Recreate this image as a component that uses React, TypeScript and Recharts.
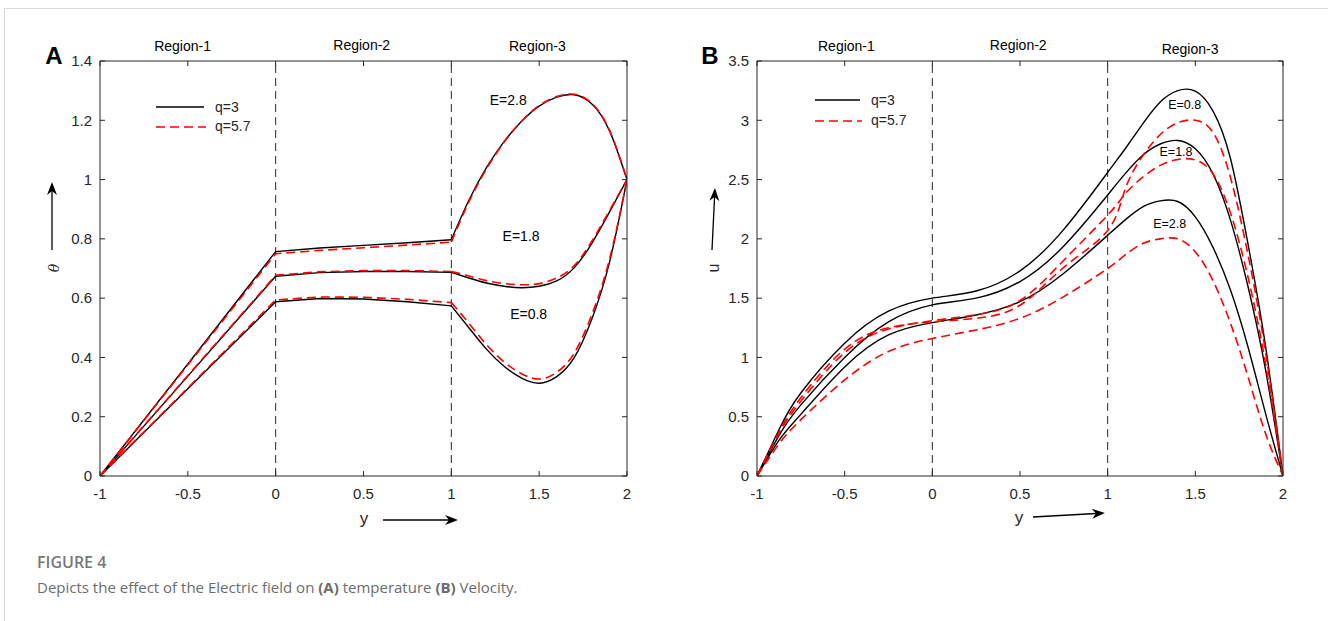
import { LineChart, Line, XAxis, YAxis, ReferenceLine, ReferenceDot } from "recharts"

// abscissa (y) sample positions
const posA = [-1, -0.5, 0, 0.25, 0.5, 0.75, 1, 1.1, 1.2, 1.3, 1.4, 1.5, 1.6, 1.7, 1.8, 1.9, 2]
const posB = [-1, -0.875, -0.75, -0.5, -0.25, 0, 0.25, 0.5, 0.75, 1, 1.1, 1.2, 1.3, 1.4, 1.5, 1.6, 1.7, 1.8, 1.9, 2]

const xTicks = [-1, -0.5, 0, 0.5, 1, 1.5, 2]
const thetaTicks = [0, 0.2, 0.4, 0.6, 0.8, 1, 1.2, 1.4]
const uTicks = [0, 0.5, 1, 1.5, 2, 2.5, 3, 3.5]

// (A) temperature theta
const thetaE28q3 = [0, 0.378, 0.757, 0.769, 0.778, 0.787, 0.797, 0.93, 1.04, 1.128, 1.197, 1.248, 1.278, 1.286, 1.255, 1.165, 1.0]
const thetaE28q57 = [0, 0.375, 0.75, 0.761, 0.77, 0.779, 0.789, 0.925, 1.036, 1.126, 1.197, 1.25, 1.28, 1.288, 1.257, 1.167, 1.0]
const thetaE18q3 = [0, 0.337, 0.674, 0.686, 0.69, 0.69, 0.687, 0.668, 0.651, 0.64, 0.635, 0.64, 0.658, 0.703, 0.785, 0.89, 1.0]
const thetaE18q57 = [0, 0.339, 0.677, 0.689, 0.693, 0.693, 0.69, 0.675, 0.659, 0.649, 0.645, 0.649, 0.668, 0.71, 0.792, 0.895, 1.0]
const thetaE08q3 = [0, 0.294, 0.588, 0.599, 0.597, 0.588, 0.574, 0.5, 0.428, 0.37, 0.33, 0.313, 0.335, 0.4, 0.53, 0.72, 1.0]
const thetaE08q57 = [0, 0.297, 0.594, 0.604, 0.603, 0.596, 0.585, 0.515, 0.443, 0.385, 0.345, 0.327, 0.35, 0.415, 0.545, 0.73, 1.0]

// (B) velocity u
const uE08q3 = [0, 0.39, 0.7, 1.12, 1.39, 1.5, 1.56, 1.73, 2.08, 2.56, 2.76, 2.97, 3.155, 3.25, 3.245, 3.08, 2.68, 1.96, 1.1, 0]
const uE18q3 = [0, 0.34, 0.6, 1.0, 1.3, 1.443, 1.5, 1.64, 1.94, 2.37, 2.55, 2.705, 2.8, 2.83, 2.76, 2.55, 2.16, 1.6, 0.9, 0]
const uE28q3 = [0, 0.3, 0.52, 0.92, 1.19, 1.294, 1.358, 1.47, 1.71, 2.03, 2.16, 2.27, 2.32, 2.315, 2.185, 1.93, 1.57, 1.09, 0.53, 0]
const uE08q57 = [0, 0.37, 0.66, 1.07, 1.25, 1.3, 1.33, 1.44, 1.76, 2.07, 2.42, 2.7, 2.88, 2.98, 3.0, 2.9, 2.52, 1.87, 1.05, 0]
const uE18q57 = [0, 0.36, 0.63, 1.04, 1.24, 1.31, 1.36, 1.48, 1.82, 2.2, 2.38, 2.52, 2.62, 2.67, 2.665, 2.55, 2.22, 1.68, 0.95, 0]
const uE28q57 = [0, 0.27, 0.475, 0.81, 1.05, 1.16, 1.232, 1.33, 1.513, 1.75, 1.865, 1.96, 2.0, 2.0, 1.89, 1.65, 1.29, 0.84, 0.36, 0]

const seriesA = [
  { key: "e28q3", values: thetaE28q3, q: 3 },
  { key: "e18q3", values: thetaE18q3, q: 3 },
  { key: "e08q3", values: thetaE08q3, q: 3 },
  { key: "e28q57", values: thetaE28q57, q: 5.7 },
  { key: "e18q57", values: thetaE18q57, q: 5.7 },
  { key: "e08q57", values: thetaE08q57, q: 5.7 },
]

const seriesB = [
  { key: "e08q3", values: uE08q3, q: 3 },
  { key: "e18q3", values: uE18q3, q: 3 },
  { key: "e28q3", values: uE28q3, q: 3 },
  { key: "e08q57", values: uE08q57, q: 5.7 },
  { key: "e18q57", values: uE18q57, q: 5.7 },
  { key: "e28q57", values: uE28q57, q: 5.7 },
]

const regionLabels = ["Region-1", "Region-2", "Region-3"]

// temperature has kinks at the interfaces, so regions 1-2 are straight segments
const rowsA = posA.map((p, i) => {
  const row: Record<string, number | null> = { p }
  seriesA.forEach((s) => {
    row[s.key] = p <= 1 ? s.values[i] : null
    row[s.key + "_r3"] = p >= 1 ? s.values[i] : null
  })
  return row
})

const rowsB = posB.map((p, i) => {
  const row: Record<string, number> = { p }
  seriesB.forEach((s) => {
    row[s.key] = s.values[i]
  })
  return row
})

const INK = "#262626"
const FONT = "Liberation Sans"
const tickStyle = { fill: INK, fontSize: 15, fontFamily: FONT }

function lineStyle(q: number) {
  return q === 3
    ? { stroke: "#000000", strokeWidth: 1.4 }
    : { stroke: "#ff0000", strokeWidth: 1.6, strokeDasharray: "9 5" }
}

// box frame with inward ticks on all four sides
function axes(yTicks: number[], yMax: number) {
  return [
    <XAxis key="xb" xAxisId="b" type="number" dataKey="p" domain={[-1, 2]} ticks={xTicks} fontSize={15}
      height={30} tickSize={-5} tickMargin={17} stroke={INK} tick={tickStyle} interval={0} allowDataOverflow />,
    <XAxis key="xt" xAxisId="t" orientation="top" type="number" dataKey="p" domain={[-1, 2]} ticks={xTicks}
      height={1} tickSize={-5} stroke={INK} tickFormatter={() => ""} interval={0} allowDataOverflow />,
    <YAxis key="yl" yAxisId="l" type="number" domain={[0, yMax]} ticks={yTicks} fontSize={15}
      width={40} tickSize={-5} tickMargin={13} stroke={INK} tick={tickStyle} interval={0} allowDataOverflow />,
    <YAxis key="yr" yAxisId="r" orientation="right" type="number" domain={[0, yMax]} ticks={yTicks}
      width={1} tickSize={-5} stroke={INK} tickFormatter={() => ""} interval={0} allowDataOverflow />,
  ]
}

function Arrow({ x1, y1, x2, y2 }: { x1: number; y1: number; x2: number; y2: number }) {
  const a = Math.atan2(y2 - y1, x2 - x1)
  const ux = Math.cos(a), uy = Math.sin(a)
  const px = -uy, py = ux
  const L = 13, W = 5, N = 9
  const bx = x2 - ux * L, by = y2 - uy * L
  const nx = x2 - ux * N, ny = y2 - uy * N
  return (
    <g>
      <line x1={x1} y1={y1} x2={nx} y2={ny} stroke="#000" strokeWidth={1.3} />
      <polygon
        points={`${x2},${y2} ${bx + px * W},${by + py * W} ${nx},${ny} ${bx - px * W},${by - py * W}`}
        fill="#000"
      />
    </g>
  )
}

function LegendBox({ x, y1, y2, len }: { x: number; y1: number; y2: number; len: number }) {
  return (
    <g fontFamily={FONT} fontSize={14} fill={INK}>
      <line x1={x} y1={y1} x2={x + len} y2={y1} stroke="#000" strokeWidth={1.5} />
      <text x={x + len + 11} y={y1} dominantBaseline="central">q=3</text>
      <line x1={x} y1={y2} x2={x + len + 2} y2={y2} stroke="#ff0000" strokeWidth={1.6} strokeDasharray="9 5" />
      <text x={x + len + 11} y={y2 - 1} dominantBaseline="central">q=5.7</text>
    </g>
  )
}

export default function App() {
  return (
    <div style={{ position: "absolute", left: 0, top: 0, width: 1328, height: 621, background: "#fff", overflow: "hidden" }}>
      <div style={{ position: "absolute", left: 4, top: 8, width: 1400, height: 700, borderTop: "1px solid #dcdcdc", borderLeft: "1px solid #dcdcdc" }} />

      <div style={{ position: "absolute", left: 0, top: 0 }}>
        <LineChart width={664} height={621} data={rowsA} margin={{ top: 60, right: 36, bottom: 115, left: 60 }} style={{ fontFamily: FONT }}>
          {axes(thetaTicks, 1.4)}
          {[0, 1].map((v) => (
            <ReferenceLine key={v} x={v} xAxisId="b" yAxisId="l" stroke={INK} strokeWidth={1} strokeDasharray="8 5" />
          ))}
          {[-0.53, 0.49, 1.49].map((v, i) => (
            <ReferenceDot key={"r" + i} x={v} y={1.4} r={0} xAxisId="b" yAxisId="l" ifOverflow="visible"
              fill="none" stroke="none"
              label={{ value: regionLabels[i], position: "top", offset: i === 1 ? 11 : 10, fill: "#000", fontSize: 14, fontFamily: FONT }} />
          ))}
          {seriesA.map((s) => (
            <Line key={s.key} xAxisId="b" yAxisId="l" dataKey={s.key} type="linear" dot={false} activeDot={false}
              isAnimationActive={false} {...lineStyle(s.q)} />
          ))}
          {seriesA.map((s) => (
            <Line key={s.key + "_r3"} xAxisId="b" yAxisId="l" dataKey={s.key + "_r3"} type="natural" dot={false} activeDot={false}
              isAnimationActive={false} {...lineStyle(s.q)} />
          ))}
          {[
            { v: "E=2.8", x: 1.324, y: 1.267 },
            { v: "E=1.8", x: 1.397, y: 0.809 },
            { v: "E=0.8", x: 1.44, y: 0.548 },
          ].map((e) => (
            <ReferenceDot key={e.v} x={e.x} y={e.y} r={0} xAxisId="b" yAxisId="l" fill="none" stroke="none"
              label={{ value: e.v, position: "center", fill: "#000", fontSize: 14, fontFamily: FONT }} />
          ))}
        </LineChart>
      </div>

      <div style={{ position: "absolute", left: 664, top: 0 }}>
        <LineChart width={664} height={621} data={rowsB} margin={{ top: 60, right: 44, bottom: 115, left: 53 }} style={{ fontFamily: FONT }}>
          {axes(uTicks, 3.5)}
          {[0, 1].map((v) => (
            <ReferenceLine key={v} x={v} xAxisId="b" yAxisId="l" stroke={INK} strokeWidth={1} strokeDasharray="8 5" />
          ))}
          {[-0.49, 0.49, 1.47].map((v, i) => (
            <ReferenceDot key={"r" + i} x={v} y={3.5} r={0} xAxisId="b" yAxisId="l" ifOverflow="visible"
              fill="none" stroke="none"
              label={{ value: regionLabels[i], position: "top", offset: i === 2 ? 7 : i === 1 ? 11 : 10, fill: "#000", fontSize: 14, fontFamily: FONT }} />
          ))}
          {seriesB.map((s) => (
            <Line key={s.key} xAxisId="b" yAxisId="l" dataKey={s.key} type="natural" dot={false} activeDot={false}
              isAnimationActive={false} {...lineStyle(s.q)} />
          ))}
          {[
            { v: "E=0.8", x: 1.439, y: 3.133 },
            { v: "E=1.8", x: 1.39, y: 2.737 },
            { v: "E=2.8", x: 1.354, y: 2.133 },
          ].map((e) => (
            <ReferenceDot key={e.v} x={e.x} y={e.y} r={0} xAxisId="b" yAxisId="l" fill="none" stroke="none"
              label={{ value: e.v, position: "center", fill: "#000", fontSize: 12.5, fontFamily: FONT }} />
          ))}
        </LineChart>
      </div>

      <svg width={1328} height={621} style={{ position: "absolute", left: 0, top: 0, pointerEvents: "none" }}>
        <text x={54} y={55} textAnchor="middle" dominantBaseline="central" fontFamily="Liberation Sans" fontWeight="bold" fontSize={24} fill="#000">A</text>
        <text x={710} y={55} textAnchor="middle" dominantBaseline="central" fontFamily="Liberation Sans" fontWeight="bold" fontSize={24} fill="#000">B</text>

        <LegendBox x={156} y1={107} y2={127} len={48} />
        <LegendBox x={815} y1={100} y2={121} len={45} />

        <text x={364} y={518} textAnchor="middle" dominantBaseline="central" fontFamily={FONT} fontSize={17} fill={INK}>y</text>
        <Arrow x1={383} y1={520} x2={458} y2={520} />
        <text x={1019} y={517} textAnchor="middle" dominantBaseline="central" fontFamily={FONT} fontSize={17} fill={INK}>y</text>
        <Arrow x1={1033} y1={517} x2={1105} y2={513} />

        <text x={54} y={268} textAnchor="middle" dominantBaseline="central" fontFamily="DejaVu Serif" fontStyle="italic" fontSize={14} fill={INK}
          transform="rotate(-90 54 268)">θ</text>
        <Arrow x1={52} y1={250} x2={52} y2={182} />
        <text x={713} y={268} textAnchor="middle" dominantBaseline="central" fontFamily={FONT} fontSize={16} fill={INK}
          transform="rotate(-90 713 268)">u</text>
        <Arrow x1={712} y1={250} x2={715} y2={188} />
      </svg>

      <div style={{ position: "absolute", left: 37, top: 551, fontFamily: "Open Sans", fontSize: 16, fontWeight: 600, color: "#777", lineHeight: "22px" }}>
        FIGURE 4
      </div>
      <div style={{ position: "absolute", left: 37, top: 576, fontFamily: "Open Sans", fontSize: 15, color: "#6b6b6b", lineHeight: "22px", whiteSpace: "nowrap" }}>
        Depicts the effect of the Electric field on <b>(A)</b> temperature <b>(B)</b> Velocity.
      </div>
    </div>
  )
}
